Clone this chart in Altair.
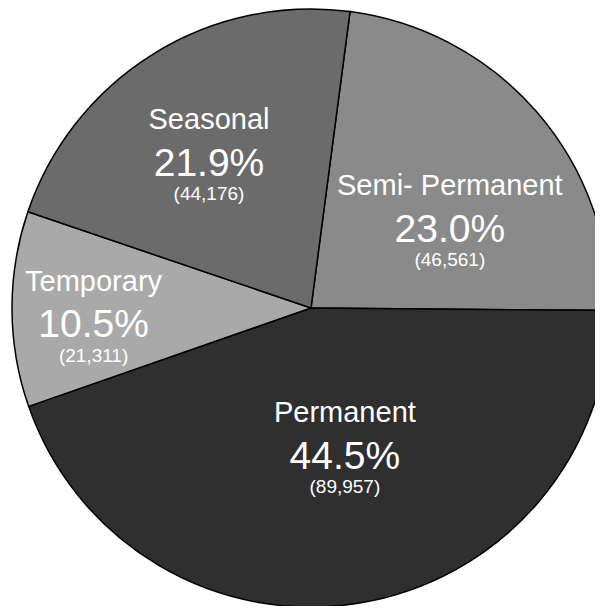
import math
import altair as alt
import pandas as pd

# ---- data ----
categories = ["Semi- Permanent", "Permanent", "Temporary", "Seasonal"]
counts = [46561, 89957, 21311, 44176]
percent_labels = ["23.0%", "44.5%", "10.5%", "21.9%"]
count_labels = ["(46,561)", "(89,957)", "(21,311)", "(44,176)"]
slice_colors = ["#8a8a8a", "#2f2f2f", "#a9a9a9", "#6b6b6b"]

df = pd.DataFrame({
    "category": categories,
    "count": counts,
    "pct": percent_labels,
    "num": count_labels,
    "order": list(range(len(categories))),
})

TOTAL = sum(counts)
START = math.radians(7.5)
theta_scale = alt.Scale(domain=[0, TOTAL], range=[START, START + 2 * math.pi], nice=False, zero=True)
color_scale = alt.Scale(domain=categories, range=slice_colors)

base = (
    alt.Chart(df)
    .transform_window(cum="sum(count)", sort=[alt.SortField("order")], frame=[None, 0])
    .transform_calculate(start="datum.cum - datum.count", mid="datum.cum - datum.count / 2")
)

arcs = base.mark_arc(outerRadius=299, stroke="black", strokeWidth=1.5).encode(
    theta=alt.Theta("start:Q", scale=theta_scale),
    theta2="cum:Q",
    color=alt.Color("category:N", scale=color_scale, legend=None),
)

# label placement (radius, angular offset in degrees) per slice
placement = {
    "Semi- Permanent": (160, 11.2),
    "Permanent": (151, -3.6),
    "Temporary": (218, -3.9),
    "Seasonal": (178, -3.1),
}

FONT = "Liberation Sans"
layers = [arcs]
for cat in categories:
    r, off = placement[cat]
    sub = base.transform_filter(alt.datum.category == cat)
    common = dict(radius=r, thetaOffset=math.radians(off), font=FONT, color="white",
                  align="center", baseline="alphabetic")
    layers.append(sub.mark_text(fontSize=29, dy=-33, **common).encode(
        theta=alt.Theta("mid:Q", scale=theta_scale), text="category:N"))
    layers.append(sub.mark_text(fontSize=39, dy=13.5, **common).encode(
        theta=alt.Theta("mid:Q", scale=theta_scale), text="pct:N"))
    layers.append(sub.mark_text(fontSize=19, dy=38, **common).encode(
        theta=alt.Theta("mid:Q", scale=theta_scale), text="num:N"))

chart = alt.layer(*layers).properties(
    width=568, height=596,
    padding={"left": 19, "top": 2, "right": 0, "bottom": 0},
    autosize=alt.AutoSizeParams(type="none"),
).configure_view(stroke=None)

chart.save("out.html", embed_options={"renderer": "svg", "actions": False})
